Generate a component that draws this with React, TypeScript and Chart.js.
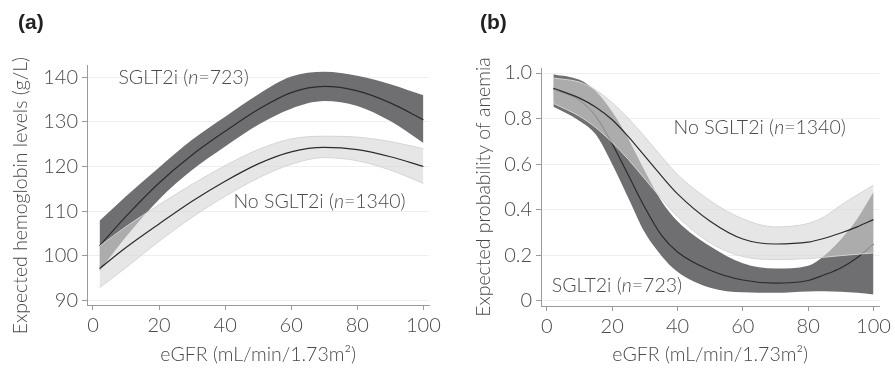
import React, { useEffect, useRef } from 'react';
import { Chart, registerables } from 'chart.js';

Chart.register(...registerables);

// ---------- Panel (a): expected hemoglobin (g/L) ----------
const eGFR_A = [2, 10, 20, 30, 40, 50, 60, 70, 80, 90, 100];
const sgltCenterA = [102.2, 108.8, 116.3, 122.6, 127.9, 132.8, 136.6, 138.0, 137.0, 134.3, 130.5];
const sgltUpperA = [107.8, 113.3, 119.8, 126.0, 131.2, 136.2, 140.2, 141.3, 140.4, 138.5, 136.0];
const sgltLowerA = [96.5, 104.2, 112.6, 119.2, 124.5, 129.4, 133.0, 134.7, 133.6, 130.2, 125.3];
const noCenterA = [97.1, 101.8, 107.1, 112.2, 116.7, 120.6, 123.3, 124.3, 123.8, 122.2, 120.0];
const noUpperA = [102.1, 106.5, 111.4, 116.0, 120.2, 123.8, 126.2, 126.8, 126.6, 125.6, 124.0];
const noLowerA = [92.8, 97.3, 103.2, 108.6, 113.3, 117.4, 120.5, 122.0, 121.3, 119.2, 116.2];

// ---------- Panel (b): expected probability of anemia ----------
const eGFR_B = [2, 10, 15, 20, 25, 30, 35, 40, 50, 60, 70, 80, 85, 90, 95, 100];
const sgltCenterB = [0.93, 0.88, 0.81, 0.69, 0.55, 0.41, 0.29, 0.215, 0.135, 0.092, 0.078, 0.09, 0.115, 0.145, 0.19, 0.25];
const sgltUpperB = [0.995, 0.97, 0.92, 0.83, 0.71, 0.57, 0.44, 0.35, 0.24, 0.165, 0.142, 0.155, 0.2, 0.27, 0.36, 0.478];
const sgltLowerB = [0.852, 0.79, 0.73, 0.6, 0.45, 0.3, 0.2, 0.128, 0.058, 0.038, 0.036, 0.042, 0.043, 0.041, 0.036, 0.028];
const noCenterB = [0.933, 0.89, 0.85, 0.795, 0.72, 0.635, 0.55, 0.47, 0.35, 0.272, 0.25, 0.258, 0.275, 0.298, 0.325, 0.357];
const noUpperB = [0.978, 0.96, 0.925, 0.87, 0.8, 0.72, 0.635, 0.555, 0.44, 0.36, 0.325, 0.34, 0.37, 0.42, 0.465, 0.508];
const noLowerB = [0.867, 0.81, 0.76, 0.695, 0.62, 0.535, 0.45, 0.37, 0.255, 0.195, 0.182, 0.186, 0.192, 0.199, 0.205, 0.211];

const xTitle = 'eGFR (mL/min/1.73m²)';
const yTitleA = 'Expected hemoglobin levels (g/L)\u00A0\u00A0\u00A0\u00A0';
const yTitleB = 'Expected probability of anemia';
const sgltLabel = [['SGLT2i (', false], ['n', true], ['=723)', false]] as [string, boolean][];
const noLabel = [['No SGLT2i (', false], ['n', true], ['=1340)', false]] as [string, boolean][];

const FONT = 'Lato';
const TEXT = '#4a4a4a';
const AXIS = '#9a9a9a';
const DARK = '#6f6f71';
const LIGHT = 'rgba(214,214,214,0.6)';
const LIGHT_EDGE = '#d4d4d4';
const LINE = '#2b2b2b';

const pts = (xs: number[], ys: number[]) => xs.map((x, i) => ({ x, y: ys[i] }));

function buildDatasets(xs: number[], su: number[], sl: number[], sc: number[], nu: number[], nl: number[], nc: number[]) {
  const base = { pointRadius: 0, cubicInterpolationMode: 'monotone' as const };
  return [
    { ...base, data: pts(xs, su), borderColor: 'rgba(0,0,0,0)', borderWidth: 1, fill: '+1', backgroundColor: DARK, order: 6 },
    { ...base, data: pts(xs, sl), borderColor: 'rgba(0,0,0,0)', borderWidth: 1, fill: false, order: 5 },
    { ...base, data: pts(xs, sc), borderColor: LINE, borderWidth: 1.2, fill: false, order: 4 },
    { ...base, data: pts(xs, nu), borderColor: LIGHT_EDGE, borderWidth: 1, fill: '+1', backgroundColor: LIGHT, order: 3 },
    { ...base, data: pts(xs, nl), borderColor: LIGHT_EDGE, borderWidth: 1, fill: false, order: 2 },
    { ...base, data: pts(xs, nc), borderColor: LINE, borderWidth: 1.2, fill: false, order: 1 },
  ];
}

type Lbl = { x: number; y: number; parts: [string, boolean][] };

function labelPlugin(labels: Lbl[]) {
  return {
    id: 'groupLabels',
    afterDatasetsDraw(chart: any) {
      const { ctx, scales } = chart;
      ctx.save();
      ctx.textBaseline = 'middle';
      ctx.fillStyle = TEXT;
      for (const l of labels) {
        let px = scales.x.getPixelForValue(l.x);
        const py = scales.y.getPixelForValue(l.y);
        for (const [t, it] of l.parts) {
          ctx.font = `${it ? 'italic ' : ''}300 19.5px ${FONT}`;
          ctx.fillText(t, px, py);
          px += ctx.measureText(t).width;
        }
      }
      ctx.restore();
    },
  };
}

type PanelCfg = {
  xs: number[]; su: number[]; sl: number[]; sc: number[]; nu: number[]; nl: number[]; nc: number[];
  yMin: number; yMax: number; yStep: number; yTitle: string;
  top: number; right: number; yWidth: number; xHeight: number; yTitlePad: number;
  fmt: (v: number) => string; labels: Lbl[];
};

function Panel({ cfg, width, left, tag, tagLeft }: { cfg: PanelCfg; width: number; left: number; tag: string; tagLeft: number }) {
  const ref = useRef<HTMLCanvasElement>(null);
  useEffect(() => {
    if (!ref.current) return;
    const tickFont = { family: FONT, size: 20, weight: 300 as any };
    const titleFont = { family: FONT, size: 19.5, weight: 300 as any };
    const chart = new Chart(ref.current, {
      type: 'line',
      data: { datasets: buildDatasets(cfg.xs, cfg.su, cfg.sl, cfg.sc, cfg.nu, cfg.nl, cfg.nc) as any },
      options: {
        responsive: false,
        animation: false,
        maintainAspectRatio: false,
        layout: { padding: { top: cfg.top, right: cfg.right, left: 0, bottom: 0 } },
        plugins: { legend: { display: false }, tooltip: { enabled: false } },
        scales: {
          x: {
            type: 'linear', min: -1.8, max: 101.8,
            afterFit: (s: any) => { s.height = cfg.xHeight; },
            ticks: { stepSize: 20, includeBounds: false, color: TEXT, font: tickFont, padding: 4, maxRotation: 0 },
            grid: { drawOnChartArea: false, tickLength: 5, tickColor: AXIS },
            border: { color: AXIS, width: 1 },
            title: { display: true, text: xTitle, color: TEXT, font: titleFont, padding: { top: 0, bottom: 4 } },
          },
          y: {
            type: 'linear', min: cfg.yMin, max: cfg.yMax,
            afterFit: (s: any) => { s.width = cfg.yWidth; },
            ticks: { stepSize: cfg.yStep, includeBounds: false, color: TEXT, font: tickFont, padding: 4, callback: (v: any) => cfg.fmt(Number(v)) },
            grid: { color: '#efefef', tickLength: 5, tickColor: AXIS },
            border: { color: AXIS, width: 1 },
            title: { display: true, text: cfg.yTitle, color: TEXT, font: titleFont, padding: { top: cfg.yTitlePad, bottom: 0 } },
          },
        },
      } as any,
      plugins: [labelPlugin(cfg.labels)],
    });
    return () => chart.destroy();
  }, []);
  return (
    <div style={{ position: 'absolute', left, top: 0, width, height: 370 }}>
      <canvas ref={ref} width={width} height={370} style={{ display: 'block' }} />
      <div style={{ position: 'absolute', left: tagLeft, top: 10, font: 'bold 21px "Liberation Sans", Arial, sans-serif', color: '#222', lineHeight: '24px' }}>{tag}</div>
    </div>
  );
}

const cfgA: PanelCfg = {
  xs: eGFR_A, su: sgltUpperA, sl: sgltLowerA, sc: sgltCenterA, nu: noUpperA, nl: noLowerA, nc: noCenterA,
  yMin: 88.9, yMax: 142.8, yStep: 10, yTitle: yTitleA,
  top: 65, right: 12, yWidth: 87, xHeight: 65, yTitlePad: 9,
  fmt: (v) => String(Math.round(v)),
  labels: [
    { x: 7.7, y: 140, parts: sgltLabel },
    { x: 42.5, y: 112, parts: noLabel },
  ],
};

const cfgB: PanelCfg = {
  xs: eGFR_B, su: sgltUpperB, sl: sgltLowerB, sc: sgltCenterB, nu: noUpperB, nl: noLowerB, nc: noCenterB,
  yMin: -0.022, yMax: 1.022, yStep: 0.2, yTitle: yTitleB,
  top: 68, right: 8, yWidth: 96, xHeight: 64, yTitlePad: 27,
  fmt: (v) => (Math.abs(v) < 1e-9 ? '0' : v.toFixed(1)),
  labels: [
    { x: 38.8, y: 0.76, parts: noLabel },
    { x: 1.5, y: 0.066, parts: sgltLabel },
  ],
};

export default function App() {
  return (
    <div style={{ position: 'fixed', left: 0, top: 0, width: 895, height: 370, background: '#fff' }}>
      <Panel cfg={cfgA} width={445} left={0} tag="(a)" tagLeft={18} />
      <Panel cfg={cfgB} width={450} left={445} tag="(b)" tagLeft={35} />
    </div>
  );
}
